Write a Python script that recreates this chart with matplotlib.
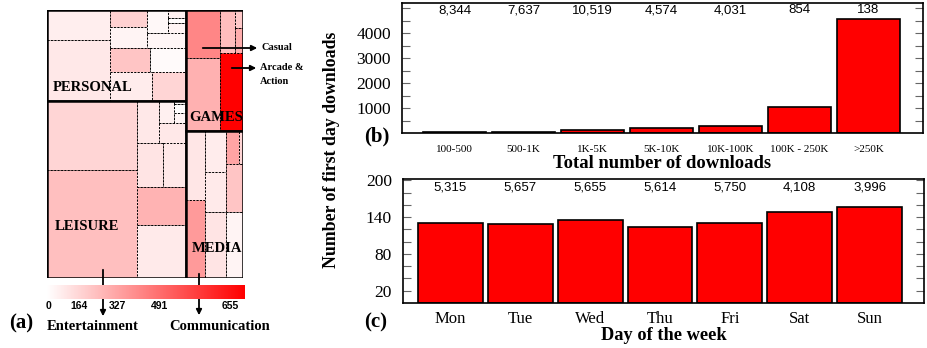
import matplotlib.pyplot as plt
import numpy as np
from matplotlib.patches import Rectangle
from matplotlib.colors import LinearSegmentedColormap, Normalize

W, H = 927, 348

# ---- data ----
# treemap: nested lists, leaves are (area, value); splits alternate x / y
personal = [
    [(16920, 45), (34404, 60)],
    [[[(5600, 120), (7280, 30)],
      [[(4410, 20), [(1325, 40), (795, 10), (1590, 30)]], (5220, 25)]],
     [(8540, 150), (7420, 15)],
     [(11264, 50), (8800, 110)]],
]
leisure = [
    [(55350, 110), (87750, 165)],
    [[(8382, 60), [[(2925, 40), [(350, 20), (875, 10), (1050, 30)]], (4960, 60)]],
     [(10140, 70), (8840, 60)],
     (16790, 195),
     (23068, 55)],
]
games = [
    [(15080, 310), (22672, 200)],
    [[(5590, 170), [(1375, 140), (1875, 210)]], (15844, 655)],
]
media = [
    [(12095, 65), (13865, 260)],
    [(7686, 50), (7560, 55), (12474, 70)],
    [[(3589, 235), (1261, 110)], (7250, 150), (9900, 30)],
]
columns = [[personal, leisure], [games, media]]
cat_names = [["PERSONAL", "LEISURE"], ["GAMES", "MEDIA"]]
cat_label_pos = [[(0.33, 0.85), (0.29, 0.71)], [(0.54, 0.89), (0.54, 0.80)]]
vmax = 655
cbar_labels = ["0", "164", "327", "491", "655"]
cbar_label_pos = [0.01, 0.16, 0.355, 0.57, 0.925]

size_bins = ["100-500", "500-1K", "1K-5K", "5K-10K", "10K-100K", "100K - 250K", ">250K"]
size_first_day = [30, 55, 105, 200, 265, 1050, 4560]
size_counts = ["8,344", "7,637", "10,519", "4,574", "4,031", "854", "138"]

days = ["Mon", "Tue", "Wed", "Thu", "Fri", "Sat", "Sun"]
day_first_day = [130, 128, 135, 124, 130, 148, 157]
day_counts = ["5,315", "5,657", "5,655", "5,614", "5,750", "4,108", "3,996"]

serif = "Liberation Serif"
sans = "Liberation Sans"


def area(node):
    if isinstance(node, tuple):
        return node[0]
    return sum(area(c) for c in node)


def layout(node, x, y, w, h, depth, out):
    if isinstance(node, tuple):
        out.append((x, y, w, h, node[1]))
        return
    total = area(node)
    pos = 0.0
    for c in node:
        f = area(c) / total
        if depth % 2 == 0:
            layout(c, x + pos * w, y, f * w, h, depth + 1, out)
        else:
            layout(c, x, y + pos * h, w, f * h, depth + 1, out)
        pos += f


def fx(px):
    return px / W


def fy(py):
    return 1 - py / H


fig = plt.figure(figsize=(W / 100, H / 100), dpi=100)

# ---- (a) treemap ----
cmap = LinearSegmentedColormap.from_list("wr", ["#ffffff", "#ff0000"])
norm = Normalize(0, vmax)
axt = fig.add_axes([fx(47), fy(278), fx(196), 268 / H])
axt.set_xlim(0, 1)
axt.set_ylim(1, 0)
axt.axis("off")

total = area(columns)
xpos = 0.0
for ci, col in enumerate(columns):
    cw = area(col) / total
    ypos = 0.0
    for ki, cat in enumerate(col):
        ch = area(cat) / area(col)
        cells = []
        layout(cat, xpos, ypos, cw, ch, 0, cells)
        for (x, y, w, h, v) in cells:
            axt.add_patch(Rectangle((x, y), w, h, facecolor=cmap(norm(v)),
                                    edgecolor="black", lw=0.7, ls=(0, (2, 1.5))))
        axt.add_patch(Rectangle((xpos, ypos), cw, ch, fill=False,
                                edgecolor="black", lw=1.8))
        lx, ly = cat_label_pos[ci][ki]
        axt.text(xpos + lx * cw, ypos + ly * ch, cat_names[ci][ki],
                 family=serif, weight="bold", fontsize=10.5,
                 ha="center", va="center")
        ypos += ch
    xpos += cw

# colorbar
axc = fig.add_axes([fx(47), fy(299), fx(198), 14 / H])
axc.imshow(np.linspace(0, vmax, 256)[None, :], cmap=cmap, norm=norm,
           aspect="auto", extent=[0, 1, 0, 1])
axc.axis("off")
for lab, p in zip(cbar_labels, cbar_label_pos):
    fig.text(fx(47 + p * 198), fy(306), lab, family=sans, weight="bold",
             fontsize=7.5, ha="center", va="center")

arrow = dict(arrowstyle="-|>", color="black", lw=1.3, mutation_scale=8)
arrows = [((200, 48), (260, 48)), ((229, 68), (259, 68)),
          ((103, 267), (103, 319)), ((199, 271), (199, 318))]
for (x0, y0), (x1, y1) in arrows:
    axt.annotate("", xy=(fx(x1), fy(y1)), xycoords="figure fraction",
                 xytext=(fx(x0), fy(y0)), textcoords="figure fraction",
                 arrowprops=arrow, annotation_clip=False)
fig.text(fx(261), fy(48), "Casual", family=serif, weight="bold",
         fontsize=7.5, va="center")
fig.text(fx(260), fy(68), "Arcade &", family=serif, weight="bold",
         fontsize=7.5, va="center")
fig.text(fx(260), fy(81), "Action", family=serif, weight="bold",
         fontsize=7.5, va="center")
fig.text(fx(47), fy(327), "Entertainment", family=serif, weight="bold",
         fontsize=10.5, va="center")
fig.text(fx(169), fy(327), "Communication", family=serif, weight="bold",
         fontsize=10.5, va="center")
fig.text(fx(21), fy(323), "(a)", family=serif, weight="bold",
         fontsize=15, ha="center", va="center")


def style(ax):
    for s in ax.spines.values():
        s.set_linewidth(1.2)
    ax.tick_params(axis="y", which="both", direction="in", left=True,
                   right=True, color="#666666", width=0.8, length=6)
    ax.tick_params(axis="y", labelsize=12.5, pad=8)
    ax.tick_params(axis="x", length=0)
    for lab in ax.get_yticklabels():
        lab.set_family(serif)


# ---- (b) by total downloads ----
axb = fig.add_axes([fx(402), fy(133), fx(521), 130 / H])
xb = np.arange(len(size_bins))
axb.bar(xb, size_first_day, width=0.91, color="#ff0000", edgecolor="black",
        lw=1.2)
axb.set_xlim(-0.76, 6.79)
axb.set_ylim(0, 5200)
axb.set_yticks([1000, 2000, 3000, 4000])
axb.set_yticks(np.arange(500, 5200, 500), minor=True)
axb.set_xticks(xb)
axb.set_xticklabels(size_bins, family=serif, fontsize=8)
axb.tick_params(axis="x", pad=9)
style(axb)
for i, c in enumerate(size_counts):
    axb.text(i, 0.945, c, transform=axb.get_xaxis_transform(), family=sans,
             fontsize=9.5, ha="center", va="center")
axb.set_xlabel("Total number of downloads", family=serif, weight="bold",
               fontsize=13.4, labelpad=0)
fig.text(fx(377), fy(136), "(b)", family=serif, weight="bold",
         fontsize=15, ha="center", va="center")

# ---- (c) by day of week ----
axd = fig.add_axes([fx(403), fy(303), fx(521), 124 / H])
xd = np.arange(len(days))
axd.bar(xd, day_first_day, width=0.93, color="#ff0000", edgecolor="black",
        lw=1.2)
axd.set_xlim(-0.68, 6.78)
axd.set_ylim(0, 202)
axd.set_yticks([20, 80, 140, 200])
axd.set_yticks(np.arange(20, 201, 20), minor=True)
axd.set_xticks(xd)
axd.set_xticklabels(days, family=serif, fontsize=12)
axd.tick_params(axis="x", pad=6)
style(axd)
for i, c in enumerate(day_counts):
    axd.text(i, 0.935, c, transform=axd.get_xaxis_transform(), family=sans,
             fontsize=9.5, ha="center", va="center")
axd.set_xlabel("Day of the week", family=serif, weight="bold",
               fontsize=13.2, labelpad=0)
fig.text(fx(376), fy(322), "(c)", family=serif, weight="bold",
         fontsize=15, ha="center", va="center")

fig.text(fx(331), fy(150), "Number of first day downloads", family=serif,
         weight="bold", fontsize=12.8, rotation=90, ha="center", va="center")

fig.savefig("out.png", dpi=100)
